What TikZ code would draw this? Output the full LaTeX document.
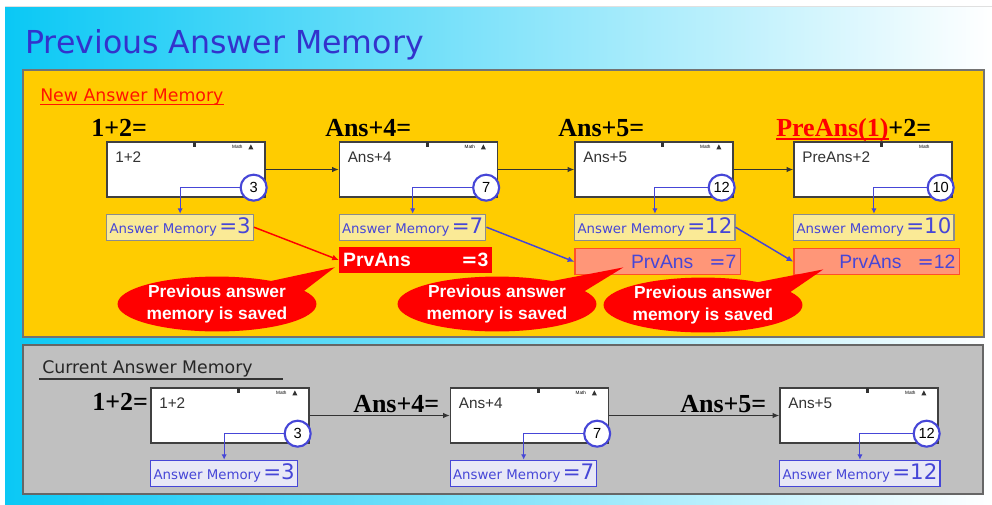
\documentclass[tikz,border=0pt]{standalone}
\usepackage{fontspec}
\setmainfont{Liberation Serif}
\newfontfamily\gothic{DejaVu Sans}
\newfontfamily\arial{Liberation Sans}
\usetikzlibrary{positioning,calc,shapes.geometric,arrows.meta}

\definecolor{bgcyan}{RGB}{10,200,245}
\definecolor{panelyellow}{RGB}{255,204,0}
\definecolor{panelgray}{RGB}{192,192,192}
\definecolor{titleblue}{RGB}{51,51,204}
\definecolor{ansblue}{RGB}{70,70,215}
\definecolor{amyellow}{RGB}{250,234,150}
\definecolor{amlilac}{RGB}{232,232,246}
\definecolor{salmon}{RGB}{255,150,120}
\definecolor{salmonedge}{RGB}{255,80,40}
\definecolor{newred}{RGB}{255,20,0}

\newcommand{\memval}[1]{{\gothic\fontsize{10}{12}\selectfont Answer Memory}\,%
{\gothic\fontsize{16}{16}\selectfont =#1}}
\newcommand{\eqval}[1]{{\gothic =}#1}

\tikzset{
  screen/.style={draw=black!75, line width=1pt, fill=white,
    minimum width=118.5pt, minimum height=41.25pt, inner sep=0pt},
  scrtext/.style={font=\arial\fontsize{11.5}{12}\selectfont, text=black!80,
    inner sep=0pt, anchor=north west},
  mathtag/.style={font=\arial\fontsize{3.5}{4}\selectfont, inner sep=0pt},
  ansring/.style={circle, draw=ansblue, line width=1.6pt, fill=white,
    minimum size=19.5pt, inner sep=0pt, font=\arial\fontsize{11}{12}\selectfont},
  expr/.style={font=\bfseries\fontsize{19.5}{20}\selectfont, inner sep=0pt,
    anchor=base west},
  memtop/.style={draw=black!45, line width=0.8pt, fill=amyellow, text=ansblue,
    inner sep=2pt, minimum height=19.5pt},
  membot/.style={draw=ansblue, line width=0.8pt, fill=amlilac, text=ansblue,
    inner sep=2pt, minimum height=19.5pt},
  prvold/.style={fill=red, text=white, inner xsep=3pt, inner ysep=0pt,
    minimum height=19.5pt, text width=109pt,
    font=\arial\bfseries\fontsize{14.5}{15}\selectfont},
  prvnew/.style={fill=salmon, draw=salmonedge, line width=1pt, text=ansblue,
    inner xsep=3pt, inner ysep=0pt, minimum height=19.5pt, text width=118pt,
    font=\arial\fontsize{14.5}{15}\selectfont},
  callout/.style={ellipse, fill=red, text=white, align=center, inner sep=0pt,
    minimum width=145pt, minimum height=36pt,
    font=\arial\bfseries\fontsize{13}{17}\selectfont},
  flow/.style={-{Latex[length=5pt,width=4pt]}, line width=0.8pt, black!80},
  tick/.style={-{Latex[length=4pt,width=4pt]}, line width=0.8pt, ansblue},
  save/.style={-{Latex[length=5pt,width=4.5pt]}, line width=1.1pt},
}

\begin{document}
\begin{tikzpicture}[x=0.75pt, y=-0.75pt]
   \useasboundingbox (0,0) rectangle (992,504);

   % background and panels
   \fill[white] (0,0) rectangle (992,504);
   \shade[left color=bgcyan, right color=white] (5,7) rectangle (992,504);
   \draw[black!12] (5,6) -- (992,6);
   \draw[fill=panelyellow, draw=black!55, line width=0.8pt] (23,70) rectangle (984,337);
   \draw[fill=panelgray, draw=black!60, line width=0.8pt] (23,345) rectangle (983,494);

   \node[anchor=base west, inner sep=0pt, text=titleblue,
      font=\gothic\fontsize{23.7}{26}\selectfont] (title) at (25,53)
      {Previous Answer Memory};

   % new answer memory
   \node[anchor=base west, inner sep=0pt, text=newred,
      font=\gothic\fontsize{13}{14}\selectfont] (newlbl) at (40,101)
      {New Answer Memory};
   \draw[newred, line width=0.6pt] (newlbl.south west) -- (newlbl.south east);

   \node[expr] (exA) at (91,136) {1+2=};
   \node[expr] (exB) at (325,136) {Ans+4=};
   \node[expr] (exC) at (558,136) {Ans+5=};
   \node[expr] (exD) at (776,136) {{\color{red}PreAns(1)}+2=};
   \draw[red, line width=1pt] ($(exD.base west)+(0,3)$) -- ++(113,0);

   \node[screen] (scrA) at (186,169.5) {};
   \node[screen] (scrB) at (418.5,169.5) {};
   \node[screen] (scrC) at (654,169.5) {};
   \node[screen] (scrD) at (873,169.5) {};

   \node[scrtext, below right=7.5pt and 6.5pt of scrA.north west] {1+2};
   \node[scrtext, below right=7.5pt and 6.5pt of scrB.north west] {Ans+4};
   \node[scrtext, below right=7.5pt and 6.5pt of scrC.north west] {Ans+5};
   \node[scrtext, below right=7.5pt and 6.5pt of scrD.north west] {PreAns+2};

   \node[ansring] (rngA) at ($(scrA.south east)+(-12,-10)$) {3};
   \node[ansring] (rngB) at ($(scrB.south east)+(-12,-10)$) {7};
   \node[ansring] (rngC) at ($(scrC.south east)+(-12,-10)$) {12};
   \node[ansring] (rngD) at ($(scrD.south east)+(-12,-10)$) {10};

   \draw[flow] (scrA) -- (scrB);
   \draw[flow] (scrB) -- (scrC);
   \draw[flow] (scrC) -- (scrD);

   \node[memtop, below=12pt of scrA.south west, anchor=north west] (memA) {\memval{3}};
   \node[memtop, below=12pt of scrB.south west, anchor=north west] (memB) {\memval{7}};
   \node[memtop, below=12pt of scrC.south west, anchor=north west] (memC) {\memval{12}};
   \node[memtop, below=12pt of scrD.south west, anchor=north west] (memD) {\memval{10}};

   \draw[tick] (rngA.west) -| (memA.north);
   \draw[tick] (rngB.west) -| (memB.north);
   \draw[tick] (rngC.west) -| (memC.north);
   \draw[tick] (rngD.west) -| (memD.north);

   \node[prvold, below=4.5pt of memB.south west, anchor=north west] (prvA)
      {PrvAns\hfill\eqval{3}};
   \node[prvnew, below=5.5pt of memC.south west, anchor=north west] (prvB)
      {\hfill PrvAns\hspace{12pt}\eqval{7}};
   \node[prvnew, below=5.5pt of memD.south west, anchor=north west] (prvC)
      {\hfill PrvAns\hspace{12pt}\eqval{12}};

   \draw[save, red] (memA.east) -- (prvA.west);
   \draw[save, ansblue] (memB.east) -- (prvB.west);
   \draw[save, ansblue] (memC.east) -- (prvC.west);

   % previous answer memory is saved
   \coordinate (cA) at (217,304);
   \coordinate (cB) at (497,304);
   \coordinate (cC) at (703,305);
   \coordinate (tipA) at ($(prvA.south west)+(-4,-6)$);
   \coordinate (tipB) at ($(prvB.south west)+(49,-8)$);
   \coordinate (tipC) at ($(prvC.south west)+(30,-6)$);
   \foreach \c/\t in {cA/tipA,cB/tipB,cC/tipC}
      \fill[red] (\t) -- ($(\c)+(40,-20)$) -- ($(\c)+(83,-10)$) -- cycle;
   \node[callout] (saveA) at (cA) {Previous answer\\memory is saved};
   \node[callout] (saveB) at (cB) {Previous answer\\memory is saved};
   \node[callout] (saveC) at (cC) {Previous answer\\memory is saved};

   % current answer memory
   \node[anchor=base west, inner sep=0pt, text=black!85,
      font=\gothic\fontsize{13}{14}\selectfont] (curlbl) at (42,373)
      {Current Answer Memory};
   \draw[black!80, line width=0.8pt] ($(curlbl.base west)+(-3,6)$) -- ++(244,0);

   \node[expr] (exE) at (92,410) {1+2=};
   \node[expr] (exF) at (353,412) {Ans+4=};
   \node[expr] (exG) at (680,412) {Ans+5=};

   \node[screen] (scrE) at (230,415.5) {};
   \node[screen] (scrF) at (529.5,415.5) {};
   \node[screen] (scrG) at (859,415.5) {};

   \node[scrtext, below right=7.5pt and 6.5pt of scrE.north west] {1+2};
   \node[scrtext, below right=7.5pt and 6.5pt of scrF.north west] {Ans+4};
   \node[scrtext, below right=7.5pt and 6.5pt of scrG.north west] {Ans+5};

   \node[ansring] (rngE) at ($(scrE.south east)+(-12,-10)$) {3};
   \node[ansring] (rngF) at ($(scrF.south east)+(-12,-10)$) {7};
   \node[ansring] (rngG) at ($(scrG.south east)+(-12,-10)$) {12};

   \draw[flow] (scrE) -- (scrF);
   \draw[flow] (scrF) -- (scrG);

   \node[membot, below=12pt of scrE.south west, anchor=north west] (memE) {\memval{3}};
   \node[membot, below=12pt of scrF.south west, anchor=north west] (memF) {\memval{7}};
   \node[membot, below=12pt of scrG.south west, anchor=north west] (memG) {\memval{12}};

   \draw[tick] (rngE.west) -| (memE.north);
   \draw[tick] (rngF.west) -| (memF.north);
   \draw[tick] (rngG.west) -| (memG.north);

   % screen status marks
   \foreach \s in {scrA,scrB,scrC,scrD,scrE,scrF,scrG}{
      \fill[black!80] ($(\s.north west)+(87,1)$) rectangle +(3,5);
      \node[mathtag] at ($(\s.north west)+(131,5)$) {Math};
   }
   \foreach \s in {scrA,scrB,scrC,scrE,scrF,scrG}
      \fill[black!80] ($(\s.north west)+(142,8)$) -- ++(5,0) -- ++(-2.5,-5) -- cycle;
\end{tikzpicture}
\end{document}
